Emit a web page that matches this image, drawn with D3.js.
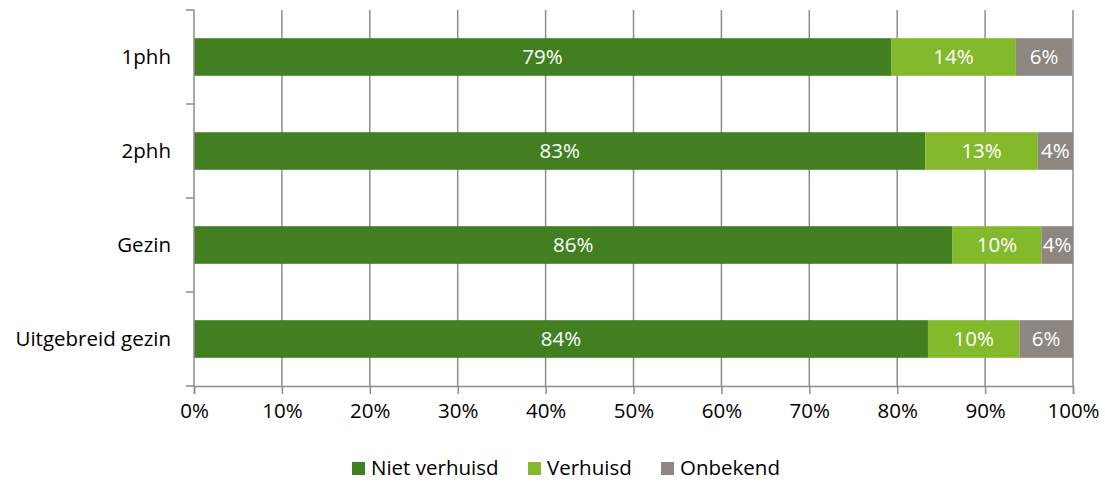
<!DOCTYPE html>
<html>
<head>
<meta charset="utf-8">
<script src="https://cdn.jsdelivr.net/npm/d3@7"></script>
<style>
  body { margin: 0; background: #fff; }
  svg text { font-family: "Open Sans", sans-serif; }
</style>
</head>
<body>
<div id="chart"></div>
<script>
var categories = ["1phh", "2phh", "Gezin", "Uitgebreid gezin"];
var seriesNames = ["Niet verhuisd", "Verhuisd", "Onbekend"];
var nietVerhuisd = [79.3, 83.2, 86.3, 83.5];
var verhuisd = [14.2, 12.8, 10.1, 10.4];
var onbekend = [6.4, 4.0, 3.6, 6.1];
var xTicks = [0, 10, 20, 30, 40, 50, 60, 70, 80, 90, 100];
var colors = ["#417f21", "#84b92c", "#8e8680"];

var W = 1105, H = 483;
var margin = {top: 10, right: 32, bottom: 97, left: 194};
var width = W - margin.left - margin.right;
var height = H - margin.top - margin.bottom;
var fs = "20.5px";

var rows = categories.map(function (c, i) {
    return {cat: c, "Niet verhuisd": nietVerhuisd[i], "Verhuisd": verhuisd[i], "Onbekend": onbekend[i]};
});
var stacked = d3.stack().keys(seriesNames)(rows);

var svg = d3.select("#chart").append("svg").attr("width", W).attr("height", H)
    .append("g").attr("transform", "translate(" + margin.left + "," + margin.top + ")");

var x = d3.scaleLinear().domain([0, 100]).range([0, width]);
var y = d3.scaleBand().domain(categories).range([0, height]).paddingInner(0.6).paddingOuter(0.3);

// gridlines
svg.append("g").selectAll("line").data(xTicks.slice(1)).enter().append("line")
    .attr("x1", d => x(d)).attr("x2", d => x(d)).attr("y1", 0).attr("y2", height)
    .attr("stroke", "#8c8c8c").attr("stroke-width", 1.5);

// bars
var layer = svg.selectAll(".layer").data(stacked).enter().append("g")
    .attr("fill", (d, i) => colors[i]);
layer.selectAll("rect").data(d => d).enter().append("rect")
    .attr("x", d => x(d[0])).attr("width", d => x(d[1]) - x(d[0]))
    .attr("y", d => y(d.data.cat)).attr("height", y.bandwidth());

// data labels
layer.selectAll("text").data(d => d.map(v => ({v: v, key: d.key}))).enter().append("text")
    .attr("x", d => (x(d.v[0]) + x(d.v[1])) / 2)
    .attr("y", d => y(d.v.data.cat) + y.bandwidth() / 2)
    .attr("dy", "0.36em").attr("text-anchor", "middle")
    .attr("fill", "#fff").style("font-size", fs)
    .text(d => Math.round(d.v.data[d.key]) + "%");

// y axis with ticks on band boundaries
var step = height / categories.length;
var yAx = svg.append("g");
yAx.append("line").attr("x1", 0).attr("x2", 0).attr("y1", 0).attr("y2", height)
    .attr("stroke", "#8c8c8c").attr("stroke-width", 1.5);
yAx.selectAll(".tk").data(d3.range(categories.length + 1)).enter().append("line")
    .attr("x1", -8).attr("x2", 0).attr("y1", d => d * step).attr("y2", d => d * step)
    .attr("stroke", "#8c8c8c").attr("stroke-width", 1.5);
yAx.selectAll("text").data(categories).enter().append("text")
    .attr("x", -23).attr("y", d => y(d) + y.bandwidth() / 2).attr("dy", "0.36em")
    .attr("text-anchor", "end").attr("fill", "#000").style("font-size", fs)
    .text(d => d);

// x axis
var xAxis = d3.axisBottom(x).tickValues(xTicks).tickSize(8).tickFormat(d => d + "%");
var gx = svg.append("g").attr("transform", "translate(0," + height + ")").call(xAxis);
gx.select(".domain").attr("stroke", "#8c8c8c").attr("stroke-width", 1.5);
gx.selectAll(".tick line").attr("stroke", "#8c8c8c").attr("stroke-width", 1.5);
gx.selectAll(".tick text").attr("y", 17).attr("fill", "#000")
    .style("font-size", fs).style("font-family", "'Open Sans', sans-serif");

// legend
var legendX = [352, 528, 661];
var legend = svg.append("g").attr("transform", "translate(" + (-margin.left) + "," + (468 - margin.top) + ")");
var li = legend.selectAll("g").data(seriesNames).enter().append("g")
    .attr("transform", (d, i) => "translate(" + legendX[i] + ",0)");
li.append("rect").attr("x", 0).attr("y", -6).attr("width", 13).attr("height", 13)
    .attr("fill", (d, i) => colors[i]);
li.append("text").attr("x", 19).attr("dy", "0.36em").attr("fill", "#000")
    .style("font-size", fs).text(d => d);
</script>
</body>
</html>
